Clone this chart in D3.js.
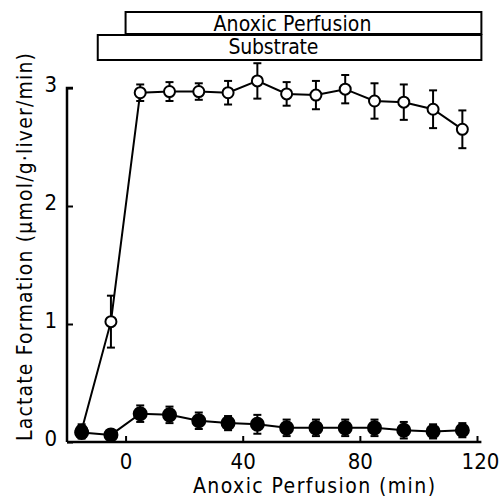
<!DOCTYPE html>
<html>
<head>
<meta charset="utf-8">
<script src="https://cdn.jsdelivr.net/npm/d3@7"></script>
<style>
  body { margin: 0; background: #fff; }
  text { font-family: "DejaVu Sans Condensed", "DejaVu Sans", sans-serif; fill: #000; }
</style>
</head>
<body>
<div id="chart"></div>
<script>
// time points (min of anoxic perfusion)
var times = [-15, -5, 5, 15, 25, 35, 45, 55, 65, 75, 85, 95, 105, 115];
// open circles: with substrate
var openMean = [0.10, 1.02, 2.96, 2.97, 2.97, 2.96, 3.06, 2.95, 2.94, 2.99, 2.89, 2.88, 2.82, 2.65];
var openErr  = [0.05, 0.22, 0.07, 0.08, 0.07, 0.10, 0.15, 0.10, 0.12, 0.12, 0.15, 0.15, 0.16, 0.16];
// filled circles: without substrate
var fillMean = [0.08, 0.06, 0.24, 0.23, 0.18, 0.16, 0.15, 0.12, 0.12, 0.12, 0.12, 0.10, 0.09, 0.10];
var fillErr  = [0.05, 0.04, 0.07, 0.07, 0.07, 0.06, 0.08, 0.07, 0.07, 0.07, 0.07, 0.07, 0.06, 0.06];
var xTicks = [0, 40, 80, 120];
var yTicks = [0, 1, 2, 3];
// bars on top: label, start, end (min)
var bars = [
  {label: "Anoxic Perfusion", start: 0, end: 121.5, mid: 57},
  {label: "Substrate", start: -9.5, end: 121.5, mid: 50.5}
];

var width = 499, height = 500;
var svg = d3.select("#chart").append("svg")
  .attr("width", width).attr("height", height);

var x = d3.scaleLinear().domain([-20, 120]).range([67, 477]);
var y = d3.scaleLinear().domain([0, 3]).range([442, 88]);

// axes
var gx = svg.append("g").attr("transform", "translate(0," + y(0) + ")")
  .call(d3.axisBottom(x).tickValues(xTicks).tickSize(-6).tickPadding(11).tickFormat(d3.format("d")));
var gy = svg.append("g").attr("transform", "translate(" + x(-20) + ",0)")
  .call(d3.axisLeft(y).tickValues(yTicks).tickSize(-6).tickPadding(10).tickFormat(d3.format("d")));
[gx, gy].forEach(function (g) {
  g.select(".domain").attr("stroke", "#000").attr("stroke-width", 2.5)
  g.selectAll(".tick line").attr("stroke", "#000").attr("stroke-width", 2);
  g.selectAll(".tick text").attr("font-size", 22).style("font-family", "DejaVu Sans Condensed, DejaVu Sans");
});
gx.select(".domain").attr("d", "M" + x(-20) + ",0H" + x(121.5));
gx.selectAll(".tick text").attr("dx", function (d) { return d === 120 ? 3 : 0; });
gy.select(".domain").attr("d", "M0," + y(0) + "V" + y(3) + "h6");
gy.selectAll(".tick text").attr("y", -4);

// axis labels
svg.append("text").attr("x", 314).attr("y", 493).attr("text-anchor", "middle")
  .attr("font-size", 21).attr("textLength", 242).text("Anoxic Perfusion (min)");
svg.append("text").attr("transform", "translate(32,247) rotate(-90)").attr("text-anchor", "middle")
  .attr("font-size", 21).attr("textLength", 388).text("Lactate Formation (\u00b5mol/g\u00b7liver/min)");

// top bars
var barY = [12, 35], barH = [22, 25], textY = [31, 54], textW = [158, 90];
bars.forEach(function (b, i) {
  svg.append("rect").attr("x", x(b.start)).attr("y", barY[i])
    .attr("width", x(b.end) - x(b.start)).attr("height", barH[i])
    .attr("fill", "#fff").attr("stroke", "#000").attr("stroke-width", 2);
  svg.append("text").attr("x", x(b.mid)).attr("y", textY[i])
    .attr("text-anchor", "middle").attr("font-size", 21).attr("textLength", textW[i]).text(b.label);
});

function drawSeries(means, errs, filled) {
  var data = times.map(function (t, i) { return {t: t, m: means[i], e: errs[i]}; });
  var g = svg.append("g");
  g.append("path").datum(data)
    .attr("fill", "none").attr("stroke", "#000").attr("stroke-width", 2)
    .attr("d", d3.line().x(function (d) { return x(d.t); }).y(function (d) { return y(d.m); }));
  var eb = g.selectAll(".eb").data(data).enter().append("g");
  eb.append("line").attr("x1", function (d) { return x(d.t); }).attr("x2", function (d) { return x(d.t); })
    .attr("y1", function (d) { return y(d.m - d.e); }).attr("y2", function (d) { return y(d.m + d.e); })
    .attr("stroke", "#000").attr("stroke-width", 2);
  [-1, 1].forEach(function (s) {
    eb.append("line").attr("x1", function (d) { return x(d.t) - 4; }).attr("x2", function (d) { return x(d.t) + 4; })
      .attr("y1", function (d) { return y(d.m + s * d.e); }).attr("y2", function (d) { return y(d.m + s * d.e); })
      .attr("stroke", "#000").attr("stroke-width", 2);
  });
  g.selectAll("circle").data(data).enter().append("circle")
    .attr("cx", function (d) { return x(d.t); }).attr("cy", function (d) { return y(d.m); })
    .attr("r", filled ? 6.5 : 5.5)
    .attr("fill", filled ? "#000" : "#fff").attr("stroke", "#000").attr("stroke-width", 2);
}
drawSeries(openMean, openErr, false);
drawSeries(fillMean, fillErr, true);
</script>
</body>
</html>
